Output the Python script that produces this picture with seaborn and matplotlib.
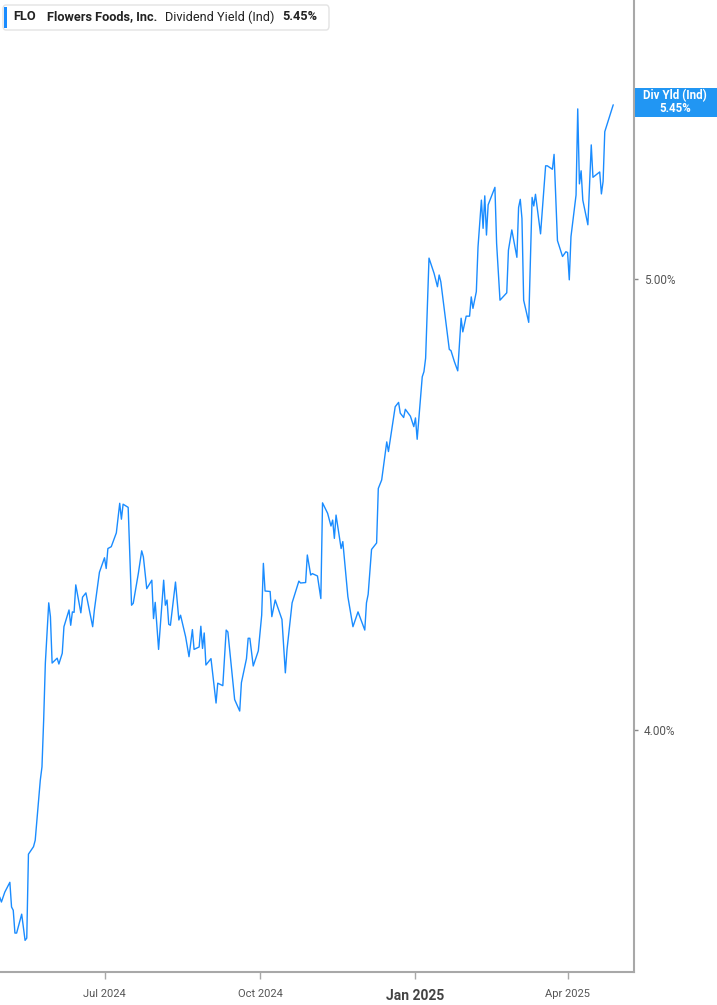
import pandas as pd
import matplotlib.pyplot as plt
from matplotlib.patches import FancyBboxPatch, Rectangle
from matplotlib.ticker import NullLocator
import seaborn as sns

# dividend yield (%)
dates = [
    "2024-04-30", "2024-05-01", "2024-05-03", "2024-05-06", "2024-05-07", "2024-05-08",
    "2024-05-09", "2024-05-10", "2024-05-13", "2024-05-15", "2024-05-16", "2024-05-17",
    "2024-05-20", "2024-05-21", "2024-05-24", "2024-05-25", "2024-05-26", "2024-05-27",
    "2024-05-29", "2024-05-30", "2024-05-31", "2024-06-03", "2024-06-04", "2024-06-06",
    "2024-06-07", "2024-06-10", "2024-06-11", "2024-06-12", "2024-06-13", "2024-06-14",
    "2024-06-17", "2024-06-18", "2024-06-20", "2024-06-24", "2024-06-25", "2024-06-28",
    "2024-07-01", "2024-07-02", "2024-07-03", "2024-07-05", "2024-07-08", "2024-07-10",
    "2024-07-11", "2024-07-12", "2024-07-15", "2024-07-17", "2024-07-18", "2024-07-21",
    "2024-07-23", "2024-07-24", "2024-07-26", "2024-07-29", "2024-07-30", "2024-07-31",
    "2024-08-02", "2024-08-05", "2024-08-06", "2024-08-07", "2024-08-08", "2024-08-09",
    "2024-08-12", "2024-08-14", "2024-08-15", "2024-08-18", "2024-08-20", "2024-08-22",
    "2024-08-23", "2024-08-26", "2024-08-27", "2024-08-28", "2024-08-29", "2024-08-30",
    "2024-09-02", "2024-09-05", "2024-09-06", "2024-09-09", "2024-09-11", "2024-09-12",
    "2024-09-16", "2024-09-19", "2024-09-20", "2024-09-23", "2024-09-24", "2024-09-25",
    "2024-09-27", "2024-09-30", "2024-10-02", "2024-10-03", "2024-10-04", "2024-10-07",
    "2024-10-08", "2024-10-10", "2024-10-14", "2024-10-16", "2024-10-17", "2024-10-20",
    "2024-10-24", "2024-10-25", "2024-10-28", "2024-10-29", "2024-10-31", "2024-11-01",
    "2024-11-04", "2024-11-06", "2024-11-07", "2024-11-10", "2024-11-12", "2024-11-13",
    "2024-11-14", "2024-11-15", "2024-11-18", "2024-11-19", "2024-11-22", "2024-11-25",
    "2024-11-28", "2024-12-02", "2024-12-03", "2024-12-04", "2024-12-06", "2024-12-09",
    "2024-12-10", "2024-12-12", "2024-12-15", "2024-12-16", "2024-12-20", "2024-12-22",
    "2024-12-23", "2024-12-25", "2024-12-26", "2024-12-29", "2024-12-31", "2025-01-01",
    "2025-01-02", "2025-01-05", "2025-01-06", "2025-01-07", "2025-01-09", "2025-01-12",
    "2025-01-14", "2025-01-15", "2025-01-16", "2025-01-21", "2025-01-22", "2025-01-24",
    "2025-01-26", "2025-01-28", "2025-01-29", "2025-01-31", "2025-02-02", "2025-02-03",
    "2025-02-04", "2025-02-06", "2025-02-07", "2025-02-09", "2025-02-10", "2025-02-11",
    "2025-02-12", "2025-02-13", "2025-02-17", "2025-02-18", "2025-02-20", "2025-02-24",
    "2025-02-25", "2025-02-27", "2025-03-02", "2025-03-03", "2025-03-04", "2025-03-05",
    "2025-03-06", "2025-03-09", "2025-03-11", "2025-03-12", "2025-03-13", "2025-03-16",
    "2025-03-19", "2025-03-20", "2025-03-23", "2025-03-24", "2025-03-26", "2025-03-29",
    "2025-03-31", "2025-04-01", "2025-04-02", "2025-04-03", "2025-04-06", "2025-04-07",
    "2025-04-08", "2025-04-09", "2025-04-10", "2025-04-13", "2025-04-15", "2025-04-16",
    "2025-04-20", "2025-04-21", "2025-04-22", "2025-04-23", "2025-04-28",
]
div_yield = [
    3.683, 3.674, 3.692, 3.710, 3.665, 3.659,
    3.618, 3.618, 3.652, 3.605, 3.609, 3.762,
    3.776, 3.788, 3.902, 3.928, 4.020, 4.135,
    4.260, 4.231, 4.135, 4.145, 4.133, 4.155,
    4.210, 4.245, 4.213, 4.241, 4.240, 4.298,
    4.239, 4.272, 4.281, 4.210, 4.245, 4.325,
    4.356, 4.333, 4.376, 4.380, 4.410, 4.475,
    4.440, 4.473, 4.466, 4.255, 4.259, 4.322,
    4.371, 4.358, 4.290, 4.308, 4.227, 4.261,
    4.163, 4.308, 4.255, 4.266, 4.215, 4.213,
    4.304, 4.224, 4.234, 4.189, 4.148, 4.204,
    4.163, 4.168, 4.211, 4.165, 4.197, 4.131,
    4.144, 4.054, 4.094, 4.089, 4.203, 4.199,
    4.061, 4.038, 4.095, 4.144, 4.186, 4.186,
    4.129, 4.160, 4.234, 4.344, 4.285, 4.284,
    4.231, 4.266, 4.225, 4.115, 4.163, 4.260,
    4.306, 4.302, 4.303, 4.362, 4.319, 4.322,
    4.317, 4.269, 4.476, 4.453, 4.425, 4.438,
    4.398, 4.449, 4.376, 4.391, 4.273, 4.210,
    4.241, 4.203, 4.260, 4.278, 4.374, 4.388,
    4.508, 4.527, 4.613, 4.591, 4.694, 4.704,
    4.679, 4.669, 4.688, 4.672, 4.648, 4.668,
    4.619, 4.764, 4.776, 4.808, 5.052, 5.014,
    4.981, 5.010, 4.993, 4.829, 4.826, 4.800,
    4.778, 4.904, 4.871, 4.909, 4.909, 4.956,
    4.928, 4.969, 5.080, 5.199, 5.127, 5.210,
    5.110, 5.187, 5.232, 5.089, 4.948, 4.966,
    5.072, 5.123, 5.054, 5.180, 5.201, 5.152,
    4.948, 4.894, 5.206, 5.184, 5.214, 5.113,
    5.288, 5.288, 5.279, 5.318, 5.096, 5.056,
    5.068, 5.066, 4.998, 5.106, 5.212, 5.439,
    5.241, 5.275, 5.199, 5.136, 5.343, 5.258,
    5.272, 5.215, 5.247, 5.378, 5.450,
]

x_ticks = ["2024-07-01", "2024-10-01", "2025-01-01", "2025-04-01"]
x_labels = ["Jul 2024", "Oct 2024", "Jan 2025", "Apr 2025"]
y_ticks = [4.0, 5.0]
y_labels = ["4.00%", "5.00%"]

ticker = "FLO"
company = "Flowers Foods, Inc."
metric = "Dividend Yield (Ind)"
last_value = "5.45%"
badge_title = "Div Yld (Ind)"

blue = "#1a8cff"
grey = "#a8a8a8"

sns.set_style("white")
plt.rcParams['font.family'] = ['Roboto', 'DejaVu Sans']

df = pd.DataFrame({"date": pd.to_datetime(dates), "yield": div_yield})

W, H = 717, 1005
fig = plt.figure(figsize=(W / 100, H / 100), dpi=100)
ax = fig.add_axes([0, 33 / H, 634 / W, 972 / H])

sns.lineplot(data=df, x="date", y="yield", ax=ax, color=blue, lw=1.0)

ax.set_yscale("log")
ax.set_ylim(3.549, 5.74)
ax.set_xlim(pd.Timestamp("2024-04-30 04:00"), pd.Timestamp("2025-05-10 07:00"))

ax.yaxis.tick_right()
ax.set_yticks(y_ticks)
ax.set_yticklabels(y_labels)
ax.yaxis.set_minor_locator(NullLocator())
ax.tick_params(axis="y", which="both", right=True, left=False, length=3, width=1,
               color="#888888", labelcolor="#555555", labelsize=8.5, pad=4)

ax.set_xticks(pd.to_datetime(x_ticks))
ax.set_xticklabels(x_labels)
ax.tick_params(axis="x", bottom=True, length=5, width=1, color=grey,
               labelcolor="#555555", labelsize=8, pad=7)
for lab in ax.get_xticklabels():
    if lab.get_text() == "Jan 2025":
        lab.set_fontweight("bold")
        lab.set_fontsize(10)
        lab.set_color("#444444")

ax.set_xlabel("")
ax.set_ylabel("")
for side in ["left", "top"]:
    ax.spines[side].set_visible(False)
for side in ["right", "bottom"]:
    ax.spines[side].set_color(grey)
    ax.spines[side].set_linewidth(1.5)

# legend chip in the top-left corner
fig.patches.append(FancyBboxPatch((3 / W, 1 - 30 / H), 326 / W, 25 / H,
                                  boxstyle="round,pad=0,rounding_size=0.004",
                                  transform=fig.transFigure, facecolor="white",
                                  edgecolor="#e3e3e3", lw=1, zorder=5))
fig.patches.append(Rectangle((4 / W, 1 - 28 / H), 3 / W, 21 / H,
                             transform=fig.transFigure, facecolor=blue,
                             edgecolor="none", zorder=6))
ty = 1 - 17 / H
fig.text(13 / W, ty, ticker, fontsize=9.2, fontweight="bold", color="#222222", va="center", zorder=7)
fig.text(47 / W, ty, company, fontsize=9.2, fontweight="bold", color="#222222", va="center", zorder=7)
fig.text(165 / W, ty, metric, fontsize=9.2, color="#222222", va="center", zorder=7)
fig.text(282 / W, ty, last_value, fontsize=9.2, fontweight="bold", color="#222222", va="center", zorder=7)

# value badge on the right axis
fig.patches.append(Rectangle((635 / W, 1 - 117 / H), 82 / W, 29 / H,
                             transform=fig.transFigure, facecolor="#2196f3",
                             edgecolor="none", zorder=5))
fig.text(675 / W, 1 - 96 / H, badge_title, fontsize=8.3, fontweight="bold",
         color="white", ha="center", va="center", zorder=6)
fig.text(675 / W, 1 - 108 / H, last_value, fontsize=8.3, fontweight="bold",
         color="white", ha="center", va="center", zorder=6)

fig.savefig("out.png", dpi=100)
